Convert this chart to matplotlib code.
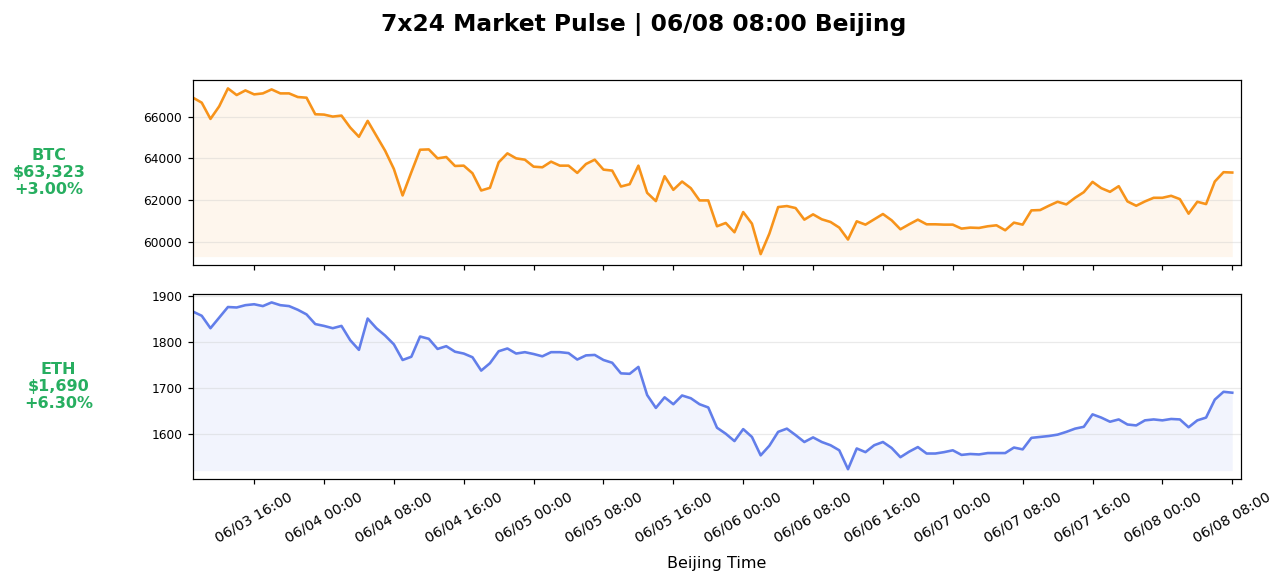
import numpy as np
import pandas as pd
import matplotlib
matplotlib.use('Agg')
import matplotlib.pyplot as plt
import matplotlib.dates as mdates

# hourly closes, Beijing time, 06/03 09:00 -> 06/08 08:00
start = '2024-06-03 09:00'
n_hours = 120

btc = [
    66925, 66686, 65904, 66510, 67372, 67053, 67276, 67085, 67132, 67324,
    67132, 67132, 66957, 66925, 66128, 66112, 66016, 66064, 65490, 65043,
    65809, 65091, 64373, 63496, 62220, 63337, 64421, 64437, 64006, 64070,
    63639, 63655, 63289, 62459, 62587, 63815, 64246, 64006, 63942, 63607,
    63576, 63847, 63655, 63655, 63305, 63735, 63942, 63464, 63416, 62650,
    62762, 63655, 62347, 61949, 63145, 62491, 62890, 62571, 61981, 61981,
    60737, 60896, 60449, 61422, 60864, 59397, 60386, 61662, 61710, 61614,
    61056, 61311, 61072, 60944, 60673, 60099, 60976, 60816, 61072, 61327,
    61024, 60593, 60832, 61056, 60832, 60832, 60816, 60816, 60625, 60673,
    60657, 60737, 60784, 60545, 60912, 60816, 61502, 61518, 61725, 61917,
    61789, 62108, 62379, 62874, 62571, 62395, 62667, 61933, 61725, 61933,
    62108, 62108, 62204, 62044, 61343, 61917, 61805, 62890, 63340, 63323,
]

eth = [
    1866, 1857, 1830, 1853, 1876, 1875, 1880, 1882, 1878, 1886,
    1880, 1878, 1870, 1860, 1839, 1835, 1830, 1835, 1804, 1783,
    1851, 1830, 1814, 1795, 1761, 1768, 1812, 1807, 1785, 1791,
    1779, 1775, 1767, 1738, 1754, 1780, 1786, 1775, 1778, 1774,
    1769, 1778, 1778, 1776, 1762, 1771, 1772, 1761, 1755, 1732,
    1731, 1746, 1685, 1657, 1680, 1665, 1684, 1678, 1665, 1658,
    1614, 1601, 1585, 1611, 1594, 1554, 1575, 1605, 1612, 1598,
    1583, 1593, 1583, 1576, 1565, 1524, 1569, 1561, 1576, 1583,
    1570, 1550, 1562, 1572, 1558, 1558, 1561, 1565, 1555, 1557,
    1556, 1559, 1559, 1559, 1571, 1567, 1592, 1594, 1596, 1599,
    1605, 1612, 1616, 1643, 1636, 1627, 1632, 1621, 1619, 1630,
    1632, 1630, 1633, 1632, 1615, 1630, 1636, 1675, 1692, 1690,
]

assets = ['BTC', 'ETH']
prices = [btc, eth]
labels = ['BTC\n$63,323\n+3.00%', 'ETH\n$1,690\n+6.30%']
colors = ['#F7931A', '#627EEA']
steps = [2000, 100]
title = '7x24 Market Pulse | 06/08 08:00 Beijing'


def main():
    times = pd.date_range(start, periods=n_hours, freq='h')

    fig = plt.figure(figsize=(11.7, 5.3), dpi=110)
    ax1 = fig.add_axes([193 / 1287, 1 - 265 / 583, 1048 / 1287, 185 / 583])
    ax2 = fig.add_axes([193 / 1287, 1 - 479 / 583, 1048 / 1287, 185 / 583], sharex=ax1)

    for ax, name, y, label, color, step in zip([ax1, ax2], assets, prices, labels, colors, steps):
        y = np.asarray(y, dtype=float)
        ax.plot(times, y, color=color, lw=1.7)
        ax.fill_between(times, y, y.min() * 0.998, color=color, alpha=0.08, lw=0)
        ax.yaxis.set_major_locator(plt.MultipleLocator(step))
        ax.grid(axis='y', color='#cccccc', alpha=0.4, lw=0.8)
        ax.tick_params(axis='y', labelsize=8)
        ax.set_ylabel(label, rotation=0, ha='right', va='center', multialignment='center',
                      labelpad=38, color='#27AE60', fontsize=10.5, fontweight='bold')

    ax1.set_xlim(pd.Timestamp(start), pd.Timestamp(start) + pd.Timedelta(hours=n_hours))
    ax1.tick_params(axis='x', labelbottom=False)
    ax2.xaxis.set_major_locator(mdates.HourLocator(byhour=[0, 8, 16]))
    ax2.xaxis.set_major_formatter(mdates.DateFormatter('%m/%d %H:%M'))
    ax2.tick_params(axis='x', labelsize=9.3)
    plt.setp(ax2.get_xticklabels(), rotation=30)
    ax2.set_xlabel('Beijing Time', fontsize=10.5, labelpad=7)

    fig.suptitle(title, fontsize=15.3, fontweight='bold', y=1 - 24 / 583, va='center')
    fig.savefig('out.png', dpi=110)


if __name__ == '__main__':
    main()
